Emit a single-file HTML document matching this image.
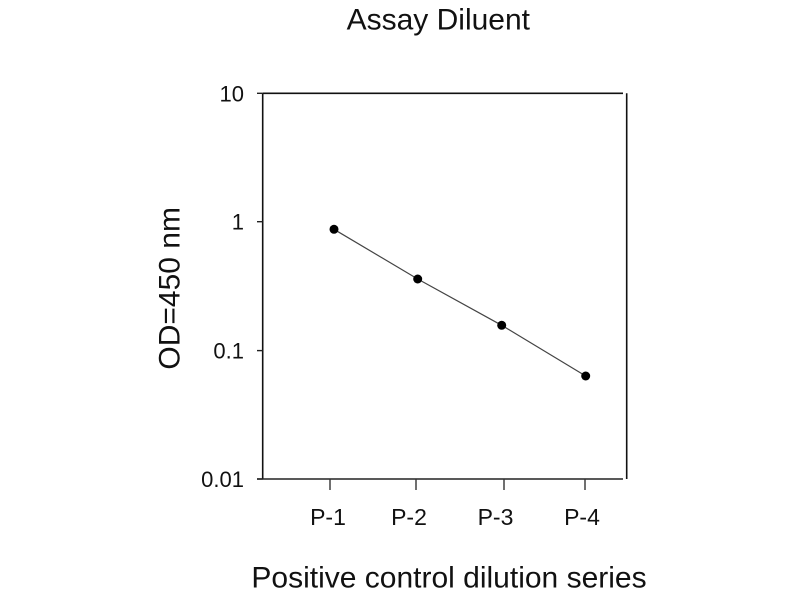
<!DOCTYPE html>
<html>
<head>
<meta charset="utf-8">
<style>
  html, body { margin: 0; padding: 0; background: #fff; }
  svg { display: block; }
  text { font-family: "Liberation Sans", Arial, sans-serif; fill: #111; }
</style>
</head>
<body>
<svg width="800" height="600" viewBox="0 0 800 600" xmlns="http://www.w3.org/2000/svg">
  <rect x="0" y="0" width="800" height="600" fill="#fff"/>

  <!-- Title -->
  <text x="438.3" y="29.3" font-size="30" text-anchor="middle">Assay Diluent</text>

  <!-- Axes box -->
  <line x1="262.7" y1="93.3" x2="623" y2="93.3" stroke="#111" stroke-width="1.6"/>
  <line x1="262.7" y1="93.3" x2="262.7" y2="479" stroke="#111" stroke-width="1.6"/>
  <line x1="257" y1="479" x2="623" y2="479" stroke="#222" stroke-width="1.6"/>
  <line x1="626.7" y1="93.3" x2="626.7" y2="479" stroke="#111" stroke-width="1.6"/>

  <!-- Y ticks -->
  <g stroke="#222" stroke-width="1.4">
    <line x1="257" y1="93.3" x2="262.7" y2="93.3"/>
    <line x1="257" y1="221.7" x2="262.7" y2="221.7"/>
    <line x1="257" y1="350.6" x2="262.7" y2="350.6"/>
    <line x1="257" y1="479" x2="262.7" y2="479"/>
  </g>
  <g font-size="22" text-anchor="end">
    <text x="244" y="101.3">10</text>
    <text x="244" y="229.7">1</text>
    <text x="244" y="358.6">0.1</text>
    <text x="244" y="487">0.01</text>
  </g>

  <!-- X ticks -->
  <g stroke="#333" stroke-width="1.4">
    <line x1="330" y1="479" x2="330" y2="490"/>
    <line x1="416" y1="479" x2="416" y2="490"/>
    <line x1="504" y1="479" x2="504" y2="490"/>
    <line x1="585" y1="479" x2="585" y2="490"/>
  </g>
  <g font-size="23" text-anchor="middle">
    <text x="328" y="525">P-1</text>
    <text x="409" y="525">P-2</text>
    <text x="495.5" y="525">P-3</text>
    <text x="582" y="525">P-4</text>
  </g>

  <!-- Series -->
  <polyline points="334,229.3 417.7,279 501.7,325.3 585.7,376" fill="none" stroke="#444" stroke-width="1.2"/>
  <g fill="#000">
    <circle cx="334" cy="229.3" r="4.5"/>
    <circle cx="417.7" cy="279" r="4.5"/>
    <circle cx="501.7" cy="325.3" r="4.5"/>
    <circle cx="585.7" cy="376" r="4.5"/>
  </g>

  <!-- Axis labels -->
  <text x="449" y="587.3" font-size="30" text-anchor="middle">Positive control dilution series</text>
  <text transform="translate(179.5,288.3) rotate(-90)" font-size="30" text-anchor="middle">OD=450 nm</text>
</svg>
</body>
</html>
